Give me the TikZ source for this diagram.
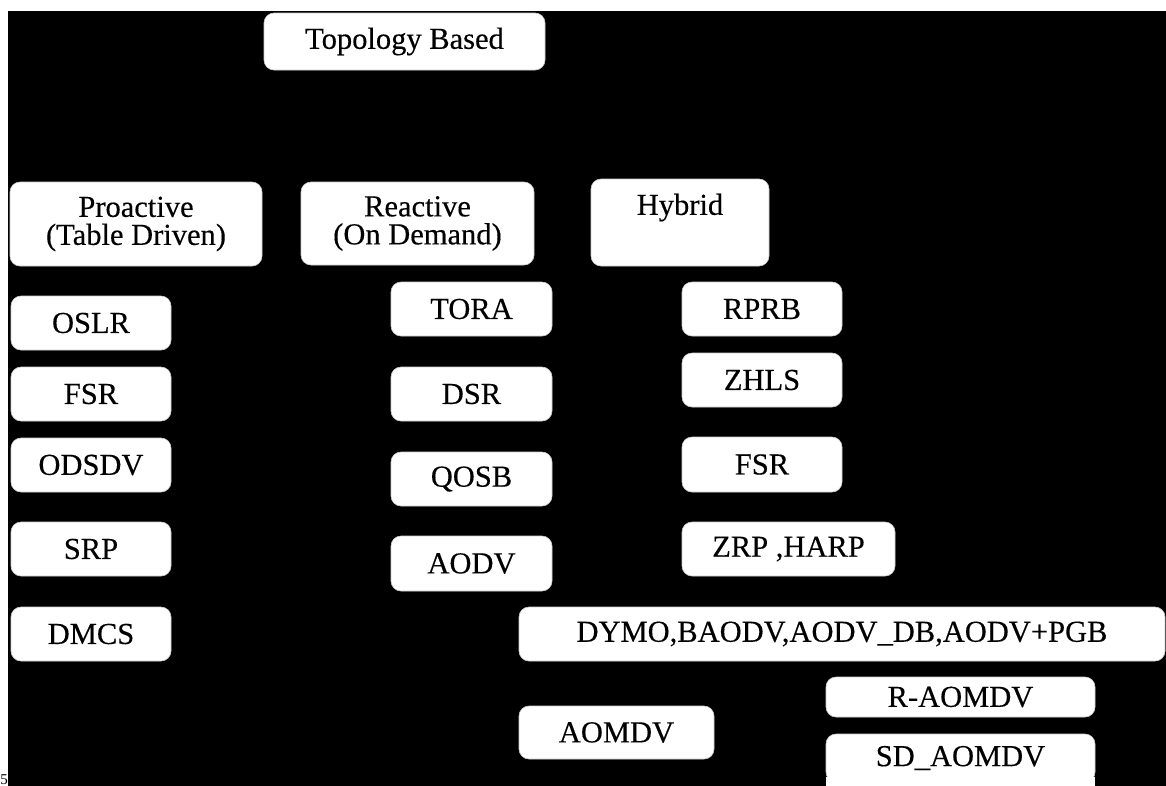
\documentclass[tikz,border=0pt]{standalone}
\usepackage{fontspec}
\setmainfont{Liberation Serif}
\newfontfamily\boxfont[FakeBold=0.3]{Liberation Serif}
\begin{document}
\begin{tikzpicture}[x=1pt,y=-1pt,
  box/.style={fill=white, draw=white!80!black, line width=0.6pt, rounded corners=10pt, text=black,
    inner sep=0pt, align=center, font=\boxfont\fontsize{30.5}{28}\selectfont},
  numtext/.style={text=black, inner sep=0pt, font=\fontsize{15}{15}\selectfont}]
\useasboundingbox (0,0) rectangle (1166,785);
\clip (0,0) rectangle (1166,785);
\fill[white] (0,0) rectangle (1166,785);
\fill[black] (8,11) rectangle (1166,790);
% top
\node[box, minimum width=281pt, minimum height=57pt] (topo) at (404.5,41.5) {Topology Based};
% categories
\node[box, minimum width=252pt, minimum height=84pt] (pro) at (136,224) {Proactive\\(Table Driven)};
\node[box, minimum width=233pt, minimum height=83pt] (rea) at (417.5,223.5) {Reactive\\(On Demand)};
\node[box, minimum width=178pt, minimum height=87pt] (hyb) at (680,222.5) {Hybrid\\\strut};
% proactive column
\node[box, minimum width=160pt, minimum height=54pt] (oslr) at (91,323) {OSLR};
\node[box, minimum width=160pt, minimum height=54pt] (fsrl) at (91,394) {FSR};
\node[box, minimum width=160pt, minimum height=54pt] (odsdv) at (91,465) {ODSDV};
\node[box, minimum width=160pt, minimum height=54pt] (srp) at (91,549) {SRP};
\node[box, minimum width=160pt, minimum height=54pt] (dmcs) at (91,634) {DMCS};
% reactive column
\node[box, minimum width=161pt, minimum height=54pt] (tora) at (471.5,309) {TORA};
\node[box, minimum width=161pt, minimum height=54pt] (dsr) at (471.5,394) {DSR};
\node[box, minimum width=161pt, minimum height=54pt] (qosb) at (471.5,479) {QOSB};
\node[box, minimum width=161pt, minimum height=55pt] (aodv) at (471.5,563.5) {AODV};
% hybrid column
\node[box, minimum width=160pt, minimum height=54pt] (rprb) at (762,309) {RPRB};
\node[box, minimum width=160pt, minimum height=54pt] (zhls) at (762,380) {ZHLS};
\node[box, minimum width=160pt, minimum height=55pt] (fsrr) at (762,464.5) {FSR};
\node[box, minimum width=213pt, minimum height=54pt] (zrp) at (788.5,549) {ZRP ,HARP};
% bottom
\node[box, minimum width=646pt, minimum height=54pt] (dymo) at (842,634) {DYMO,BAODV,AODV\_DB,AODV+PGB};
\node[box, minimum width=195pt, minimum height=53pt] (aomdv) at (616.5,732.5) {AOMDV};
\node[box, minimum width=269pt, minimum height=40pt] (raomdv) at (960.5,697) {R-AOMDV};
\node[box, minimum width=269pt, minimum height=48pt] (sdaomdv) at (960.5,758) {SD\_AOMDV};
% the box runs past the lower edge
\fill[white] (826.3,777) rectangle (1094.7,795);
% figure number fragment
\node[numtext, anchor=base west] (fignum) at (0.2,784) {5};
\end{tikzpicture}
\end{document}
